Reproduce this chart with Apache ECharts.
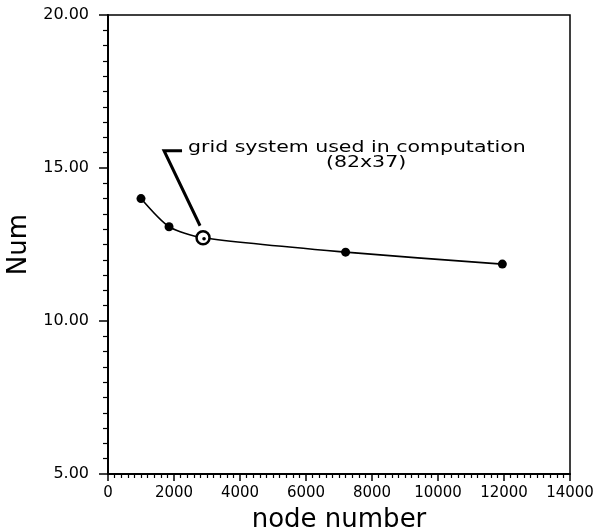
<!DOCTYPE html>
<html>
<head>
<meta charset="utf-8">
<script src="https://cdn.jsdelivr.net/npm/echarts@6/dist/echarts.min.js"></script>
<style>html,body{margin:0;padding:0;background:#fff}#c{width:595px;height:532px}</style>
</head>
<body>
<div id="c"></div>
<script>
var nodeNumbers = [1000, 1850, 2880, 7200, 11950];
var numValues = [14.0, 13.08, 12.72, 12.25, 11.86];
var highlightIndex = 2;
var xTicks = [0, 2000, 4000, 6000, 8000, 10000, 12000, 14000];
var yTicks = [5, 10, 15, 20];
var annotationLine1 = 'grid system used in computation';
var annotationLine2 = '(82x37)';

var chart = echarts.init(document.getElementById('c'), null, {renderer: 'canvas'});
var FONT = 'DejaVu Sans';
var data = nodeNumbers.map(function (x, i) {
  if (i === highlightIndex) {
    return {value: [x, numValues[i]], symbol: 'circle', symbolSize: 13,
      itemStyle: {color: '#fff', borderColor: '#000', borderWidth: 2.5}};
  }
  return {value: [x, numValues[i]]};
});

var option = {
  animation: false,
  backgroundColor: '#fff',
  grid: {left: 108, right: 25, top: 15, bottom: 58, show: true, borderColor: '#000', borderWidth: 1.5,
    containLabel: false, outerBoundsMode: 'none'},
  xAxis: {
    type: 'value', min: xTicks[0], max: xTicks[xTicks.length - 1], interval: 2000,
    splitLine: {show: false},
    axisLine: {lineStyle: {color: '#000', width: 2}},
    axisTick: {show: true, inside: false, length: 7, lineStyle: {color: '#000', width: 1.5}},
    minorTick: {show: true, splitNumber: 10, length: 4, lineStyle: {color: '#000', width: 1.2}},
    axisLabel: {color: '#000', fontFamily: FONT, fontSize: 15, margin: 12,
      formatter: function (v) { return String(v); }},
    name: 'node number', nameLocation: 'middle', nameGap: 33,
    nameTextStyle: {color: '#000', fontFamily: FONT, fontSize: 26}
  },
  yAxis: {
    type: 'value', min: yTicks[0], max: yTicks[yTicks.length - 1], interval: 5,
    splitLine: {show: false},
    axisLine: {lineStyle: {color: '#000', width: 2}},
    axisTick: {show: true, inside: false, length: 9, lineStyle: {color: '#000', width: 1.5}},
    minorTick: {show: true, splitNumber: 10, length: 5, lineStyle: {color: '#000', width: 1.2}},
    axisLabel: {color: '#000', fontFamily: FONT, fontSize: 16, margin: 19,
      formatter: function (v) { return v.toFixed(2); }},
    name: 'Num', nameLocation: 'middle', nameGap: 75, nameRotate: 90,
    nameTextStyle: {color: '#000', fontFamily: FONT, fontSize: 26}
  },
  series: [{
    type: 'line', data: data, smooth: 0.25,
    symbol: 'circle', symbolSize: 9,
    itemStyle: {color: '#000'},
    lineStyle: {color: '#000', width: 1.6},
    z: 3
  }]
};
chart.setOption(option);

var p = chart.convertToPixel({gridIndex: 0}, [nodeNumbers[highlightIndex], numValues[highlightIndex]]);
var sx = 1.28;
chart.setOption({
  graphic: [
    {type: 'circle', shape: {cx: p[0] + 1, cy: p[1] + 1, r: 1.8}, style: {fill: '#000'}, z: 10},
    {type: 'polyline', shape: {points: [[p[0] - 3, p[1] - 12], [p[0] - 39, p[1] - 87], [p[0] - 21, p[1] - 87]]},
      style: {stroke: '#000', lineWidth: 3, fill: null}, z: 10},
    {type: 'text', x: p[0] - 15, y: p[1] - 90, scaleX: sx,
      style: {text: annotationLine1, fill: '#000', font: '16px "DejaVu Sans"', textVerticalAlign: 'middle', textAlign: 'left'}, z: 10},
    {type: 'text', x: p[0] + 163, y: p[1] - 75, scaleX: sx,
      style: {text: annotationLine2, fill: '#000', font: '16px "DejaVu Sans"', textVerticalAlign: 'middle', textAlign: 'center'}, z: 10}
  ]
});
</script>
</body>
</html>
